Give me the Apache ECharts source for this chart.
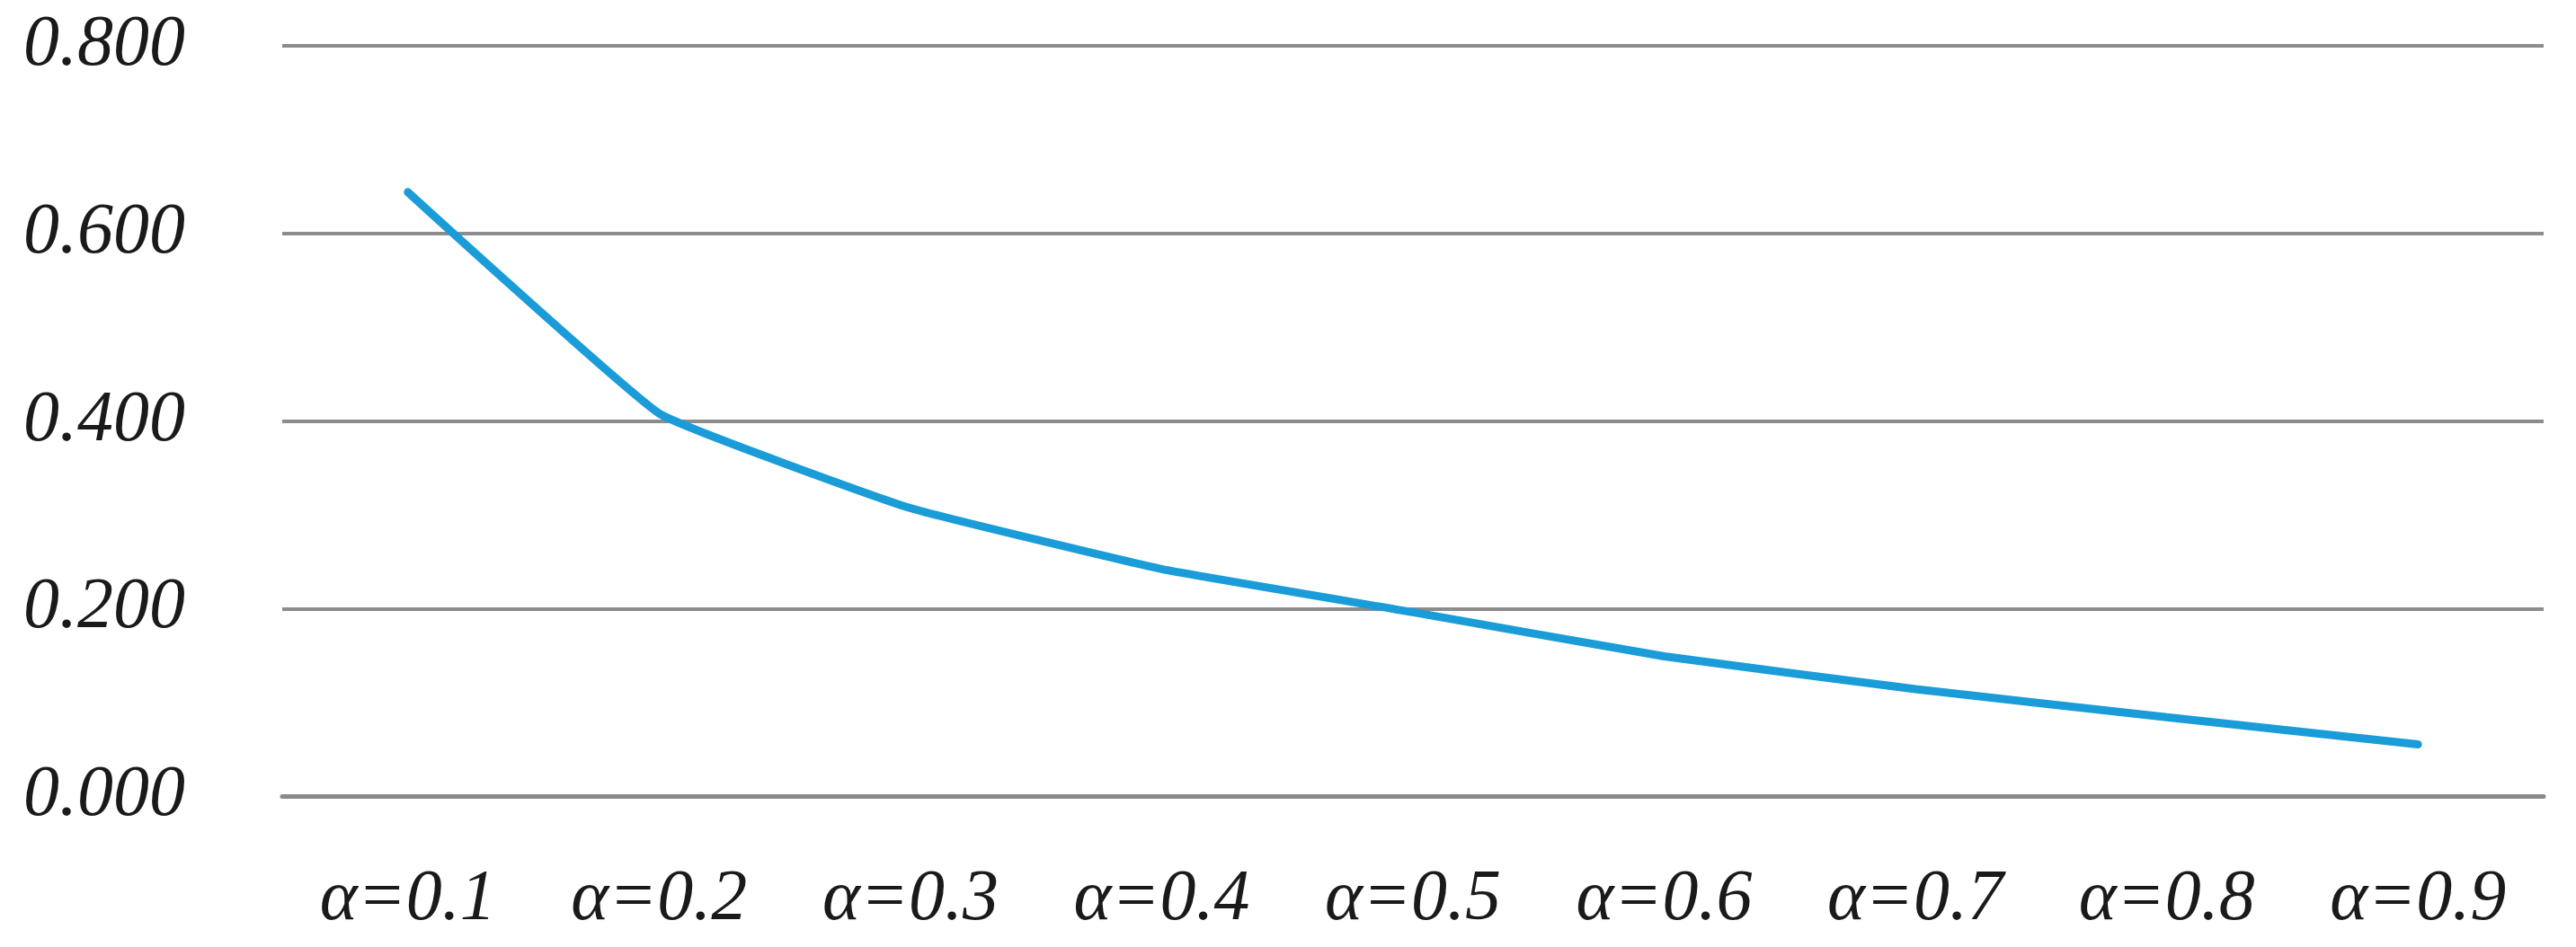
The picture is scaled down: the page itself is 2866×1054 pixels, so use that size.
<!DOCTYPE html>
<html>
<head>
<meta charset="utf-8">
<script src="https://cdn.jsdelivr.net/npm/echarts@6/dist/echarts.min.js"></script>
<style>
  html, body { margin: 0; padding: 0; background: #fff; }
  #chart { width: 2866px; height: 1054px; }
</style>
</head>
<body>
<div id="chart"></div>
<script>
const categories = ['α=0.1', 'α=0.2', 'α=0.3', 'α=0.4', 'α=0.5', 'α=0.6', 'α=0.7', 'α=0.8', 'α=0.9'];
const values = [0.644, 0.408, 0.307, 0.242, 0.196, 0.149, 0.114, 0.084, 0.055];
const yTicks = { min: 0, max: 0.8, interval: 0.2 };

const labelFont = {
  fontFamily: '"Liberation Serif", "DejaVu Serif", serif',
  fontStyle: 'italic',
  fontSize: 80,
  color: '#1a1a1a',
};

const chart = echarts.init(document.getElementById('chart'));
chart.setOption({
  animation: false,
  backgroundColor: '#fff',
  grid: { left: 314, right: 36, top: 51, bottom: 168 },
  xAxis: {
    type: 'category',
    data: categories,
    boundaryGap: true,
    axisLine: { show: true, lineStyle: { color: '#8a8a8a', width: 5 } },
    axisTick: { show: false },
    axisLabel: { ...labelFont, margin: 76 },
  },
  yAxis: {
    type: 'value',
    min: yTicks.min,
    max: yTicks.max,
    interval: yTicks.interval,
    axisLine: { show: false },
    axisTick: { show: false },
    splitLine: { lineStyle: { color: '#8c8c8c', width: 4 } },
    axisLabel: {
      ...labelFont,
      margin: 108,
      formatter: (v) => v.toFixed(3),
    },
  },
  series: [
    {
      type: 'line',
      data: values,
      symbol: 'none',
      smooth: 0.1,
      lineStyle: { color: '#1a9cd8', width: 9, cap: 'round' },
    },
  ],
});
</script>
</body>
</html>
